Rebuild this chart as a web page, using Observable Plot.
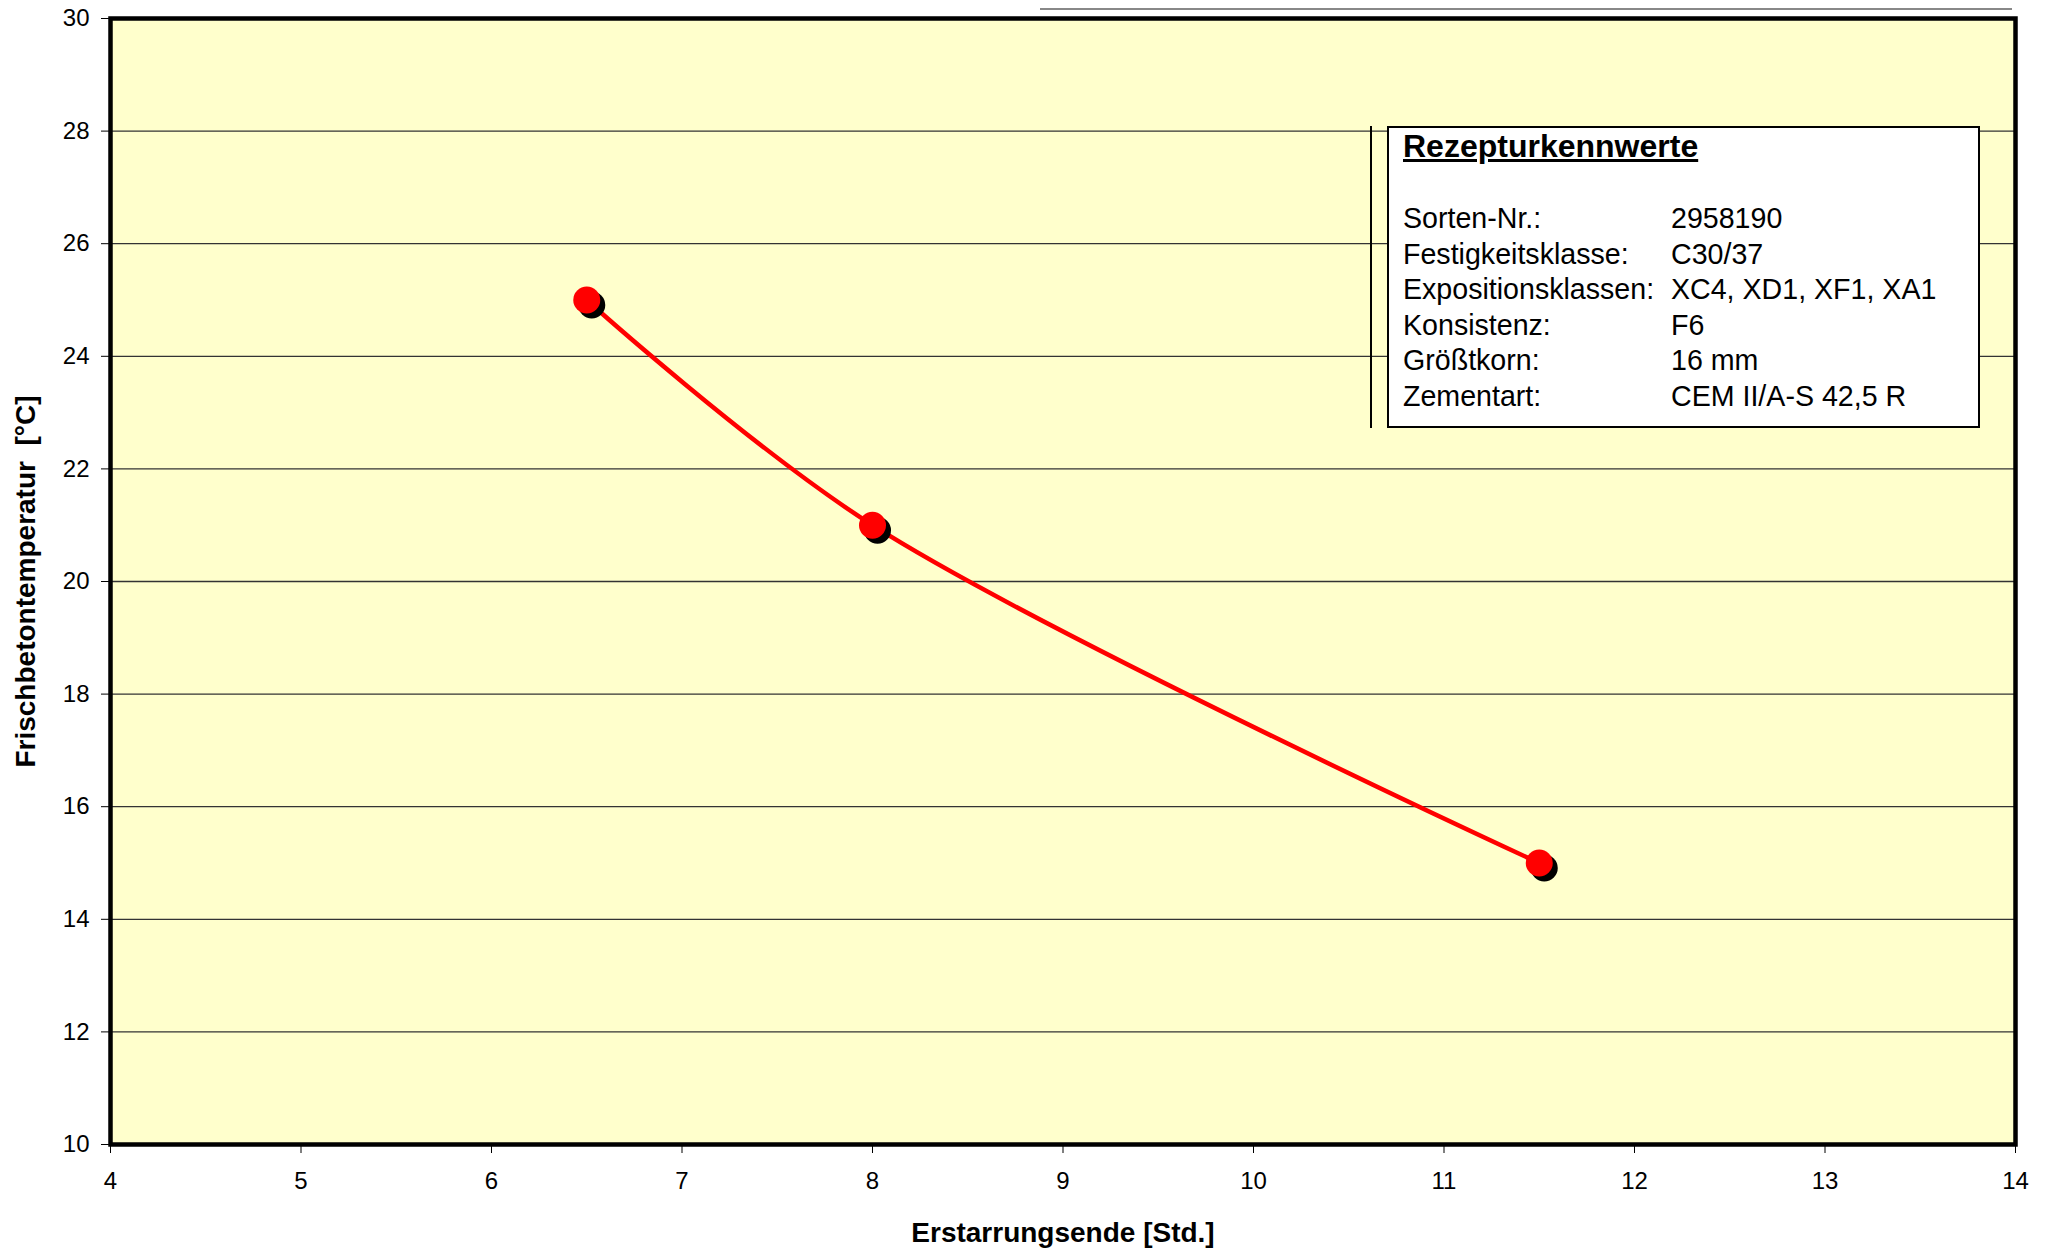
<!DOCTYPE html>
<html><head><meta charset="utf-8">
<script src="https://cdn.jsdelivr.net/npm/d3@7"></script>
<script src="https://cdn.jsdelivr.net/npm/@observablehq/plot@0.6"></script>
<style>
html,body{margin:0;padding:0;background:#fff;}
#wrap{position:relative;width:2048px;height:1250px;font-family:"Liberation Sans",Arial,sans-serif;}
#legend{position:absolute;left:1387px;top:126px;width:589px;height:298px;border:2px solid #000;background:#fff;box-sizing:content-box;}
#legend .title{position:absolute;left:14px;top:0px;font-weight:bold;font-size:32px;text-decoration:underline;}
#legend .row{position:absolute;left:14px;font-size:28.6px;white-space:nowrap;}
#legend .row span.v{position:absolute;left:268px;}
#vline{position:absolute;left:1370px;top:126px;width:2px;height:302px;background:#000;}
#topline{position:absolute;left:1040px;top:8px;width:972px;height:2px;background:#888;}
</style></head>
<body><div id="wrap"><div id="topline"></div><div id="vline"></div></div>
<script>
const hours = [6.5, 8, 11.5];
const temps = [25, 21, 15];
const xTicks = [4,5,6,7,8,9,10,11,12,13,14];
const yTicks = [10,12,14,16,18,20,22,24,26,28,30];
const gridVals = [12,14,16,18,20,22,24,26,28];
const xTitle = "Erstarrungsende [Std.]";
const yTitle = "Frischbetontemperatur  [°C]";
const legendTitle = "Rezepturkennwerte";
const legendKeys = ["Sorten-Nr.:", "Festigkeitsklasse:", "Expositionsklassen:", "Konsistenz:", "Größtkorn:", "Zementart:"];
const legendVals = ["2958190", "C30/37", "XC4, XD1, XF1, XA1", "F6", "16 mm", "CEM II/A-S 42,5 R"];

const data = hours.map((h,i)=>({h, t: temps[i]}));

const chart = Plot.plot({
  width: 2048, height: 1250,
  marginLeft: 110, marginRight: 33, marginTop: 18, marginBottom: 106,
  style: {fontFamily: "'Liberation Sans', Arial, sans-serif", fontSize: "24px", color: "#000", background: "transparent"},
  x: {domain: [4,14]},
  y: {domain: [10,30]},
  marks: [
    Plot.frame({fill: "#FFFFCC", stroke: "none"}),
    Plot.ruleY(gridVals, {stroke: "#333", strokeWidth: 1.3}),
    Plot.frame({stroke: "#000", strokeWidth: 4.5}),
    Plot.axisX({ticks: xTicks, tickSize: 9, tickPadding: 18, tickFormat: d=>String(d), label: null, stroke: "#000"}),
    Plot.axisY({ticks: yTicks, tickSize: 9, tickPadding: 12, tickFormat: d=>String(d), label: null, stroke: "#000"}),
    Plot.text([xTitle], {frameAnchor: "bottom", dy: 97, text: d=>d, fontWeight: "bold", fontSize: 28}),
    Plot.text([yTitle], {frameAnchor: "left", dx: -84, rotate: -90, textAnchor: "middle", text: d=>d, fontWeight: "bold", fontSize: 28}),
    Plot.line(data, {x: "h", y: "t", stroke: "#FF0000", strokeWidth: 4.5, curve: "catmull-rom"}),
    Plot.dot(data, {x: "h", y: "t", r: 13.5, fill: "#000", dx: 5, dy: 5}),
    Plot.dot(data, {x: "h", y: "t", r: 13.5, fill: "#FF0000"})
  ]
});
const wrap = document.getElementById("wrap");
wrap.insertBefore(chart, wrap.firstChild);

const lg = document.createElement("div");
lg.id = "legend";
const tt = document.createElement("div");
tt.className = "title"; tt.textContent = legendTitle;
lg.appendChild(tt);
legendKeys.forEach((k,i)=>{
  const r = document.createElement("div");
  r.className = "row";
  r.style.top = (74 + i*35.5) + "px";
  r.textContent = k;
  const v = document.createElement("span");
  v.className = "v"; v.textContent = legendVals[i];
  r.appendChild(v);
  lg.appendChild(r);
});
wrap.appendChild(lg);
</script>
</body></html>
